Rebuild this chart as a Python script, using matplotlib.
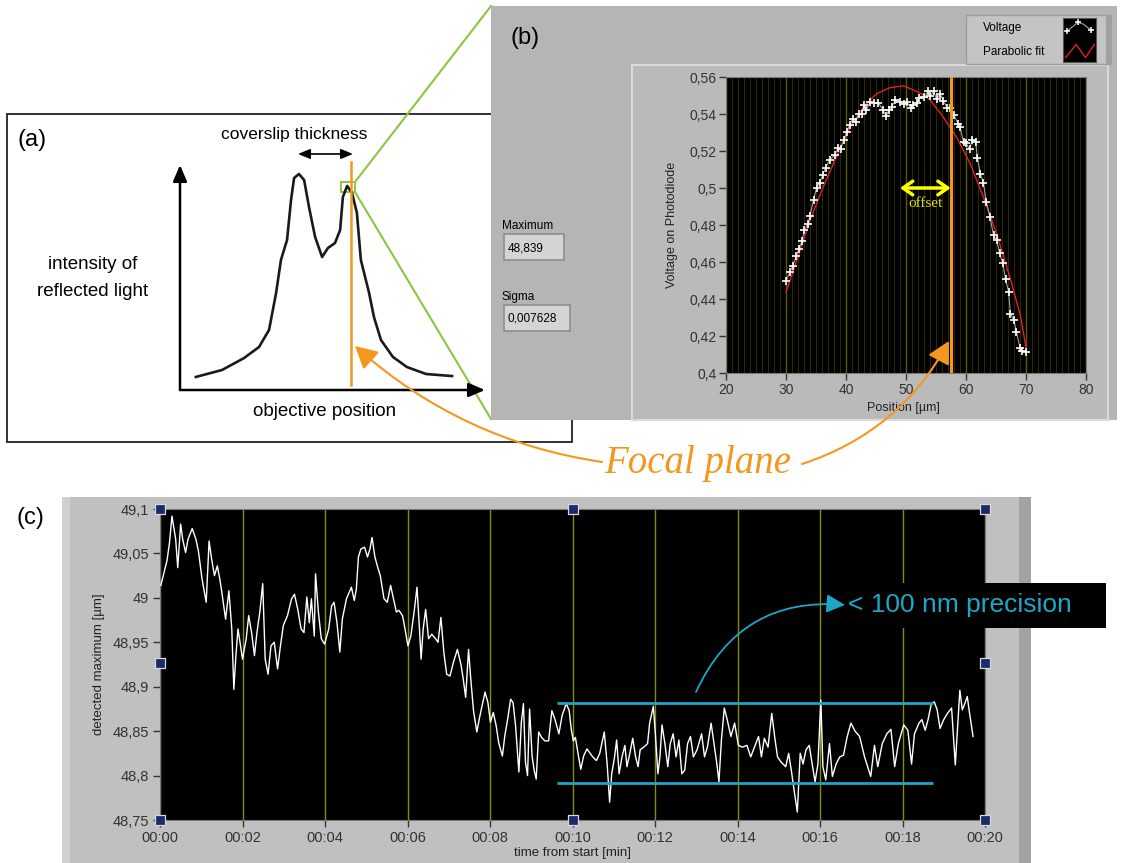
import numpy as np
import matplotlib
matplotlib.use("Agg")
import matplotlib.pyplot as plt
from matplotlib.patches import Rectangle, FancyArrowPatch
from matplotlib.ticker import MultipleLocator, FuncFormatter

plt.rcParams['font.family'] = ['Liberation Sans', 'DejaVu Sans']

# ---------------- data ----------------
# (a) schematic reflection profile (arbitrary units)
schem_pos = [5.2, 13.8, 21.0, 25.9, 29.2, 31.5, 33.1, 35.1, 36.4, 37.4, 39.0, 40.7,
             42.3, 44.3, 46.6, 48.5, 50.8, 52.5, 53.4, 54.8, 56.4, 58.0, 59.3, 62.0,
             63.6, 65.9, 69.8, 74.4, 80.7, 89.2]
schem_int = [5.8, 8.9, 14.2, 19.1, 26.7, 43.1, 57.8, 66.7, 84.4, 94.2, 96.0, 93.3,
             81.3, 68.0, 59.1, 63.1, 65.3, 71.1, 85.8, 90.7, 87.6, 78.7, 57.8, 43.1,
             32.4, 22.2, 14.7, 10.2, 7.1, 6.2]
schem_focal = 56.1
schem_cover = (38.7, 56.7)

# (b) voltage on photodiode vs position
voltage_pos = [30.0, 30.67, 31.1, 31.7, 32.1, 32.7, 33.0, 33.7, 34.0, 34.6, 35.1, 35.6,
               36.1, 36.6, 37.3, 38.1, 38.7, 39.1, 39.6, 40.1, 40.6, 41.1, 41.6, 42.1,
               42.6, 43.0, 43.4, 44.0, 44.6, 45.4, 46.2, 46.7, 47.1, 47.6, 48.2, 49.0,
               49.7, 50.1, 50.8, 51.2, 51.8, 52.2, 53.0, 53.7, 54.0, 54.6, 55.1, 55.7,
               56.2, 56.9, 57.4, 58.0, 58.7, 59.0, 59.6, 60.0, 60.6, 61.0, 61.6, 61.9,
               62.4, 62.9, 63.4, 64.0, 64.6, 65.1, 65.6, 66.1, 66.6, 67.1, 67.4, 68.0,
               68.4, 69.0, 69.4, 70.0]
voltage_val = [0.4497, 0.4546, 0.458, 0.463, 0.4668, 0.4712, 0.4771, 0.4807, 0.485,
               0.4937, 0.5002, 0.5027, 0.5068, 0.511, 0.5153, 0.5177, 0.5218, 0.5213,
               0.5258, 0.5303, 0.5339, 0.5375, 0.5357, 0.5398, 0.5402, 0.5447, 0.542,
               0.5465, 0.546, 0.546, 0.542, 0.5387, 0.5423, 0.5438, 0.5474, 0.5467,
               0.5452, 0.5465, 0.5434, 0.5447, 0.546, 0.5487, 0.5492, 0.5523, 0.5495,
               0.5523, 0.5479, 0.551, 0.547, 0.5434, 0.5434, 0.5393, 0.5348, 0.533,
               0.5247, 0.5243, 0.5209, 0.5258, 0.5249, 0.5164, 0.5077, 0.5027, 0.4924,
               0.4843, 0.4744, 0.4717, 0.4649, 0.4595, 0.4508, 0.4438, 0.4321, 0.4285,
               0.4222, 0.4137, 0.4119, 0.4114]
fit_pos = [30.0, 31.8, 34.0, 36.2, 38.4, 40.7, 42.9, 45.1, 47.3, 49.5, 50.1, 52.3, 54.0,
           56.2, 58.4, 60.7, 62.9, 65.1, 67.3, 69.0, 70.0]
fit_val = [0.4438, 0.4609, 0.4825, 0.5005, 0.5168, 0.533, 0.5438, 0.551, 0.5542, 0.5552,
           0.5546, 0.5514, 0.5477, 0.5384, 0.5276, 0.5132, 0.4951, 0.4753, 0.4519,
           0.432, 0.414]
focal_pos_b = 57.45
offset_start = 49.0
offset_level = 0.5

# (c) detected maximum vs time
time_min = [0.02, 0.08, 0.17, 0.23, 0.29, 0.38, 0.43, 0.5, 0.55, 0.62, 0.68, 0.78, 0.87,
            0.93, 1.02, 1.12, 1.19, 1.25, 1.32, 1.39, 1.45, 1.5, 1.59, 1.67, 1.74, 1.79,
            1.84, 1.89, 1.94, 2.0, 2.09, 2.15, 2.22, 2.29, 2.35, 2.42, 2.49, 2.55, 2.62,
            2.69, 2.77, 2.85, 2.92, 2.99, 3.09, 3.19, 3.26, 3.34, 3.42, 3.49, 3.56, 3.62,
            3.67, 3.74, 3.77, 3.84, 3.91, 3.99, 4.09, 4.16, 4.22, 4.29, 4.36, 4.42, 4.52,
            4.64, 4.71, 4.76, 4.81, 4.87, 4.96, 5.03, 5.09, 5.14, 5.21, 5.28, 5.34, 5.43,
            5.51, 5.59, 5.66, 5.73, 5.79, 5.88, 5.94, 6.01, 6.08, 6.16, 6.23, 6.29, 6.33,
            6.38, 6.44, 6.51, 6.59, 6.68, 6.74, 6.81, 6.88, 6.95, 7.03, 7.11, 7.21, 7.3,
            7.35, 7.41, 7.48, 7.53, 7.6, 7.68, 7.75, 7.81, 7.88, 7.95, 8.01, 8.08, 8.15,
            8.21, 8.3, 8.36, 8.43, 8.5, 8.56, 8.62, 8.7, 8.76, 8.81, 8.86, 8.91, 8.96,
            9.02, 9.07, 9.12, 9.18, 9.25, 9.33, 9.42, 9.5, 9.57, 9.67, 9.75, 9.85, 9.92,
            9.97, 10.02, 10.07, 10.13, 10.2, 10.27, 10.35, 10.49, 10.58, 10.66, 10.77,
            10.84, 10.9, 10.95, 11.02, 11.07, 11.13, 11.2, 11.27, 11.32, 11.39, 11.46,
            11.53, 11.59, 11.64, 11.73, 11.82, 11.87, 11.96, 12.01, 12.07, 12.12, 12.17,
            12.24, 12.31, 12.37, 12.44, 12.51, 12.58, 12.65, 12.72, 12.79, 12.86, 12.93,
            13.02, 13.13, 13.2, 13.27, 13.36, 13.43, 13.5, 13.55, 13.61, 13.68, 13.75,
            13.84, 13.93, 14.02, 14.12, 14.23, 14.32, 14.41, 14.51, 14.58, 14.65, 14.74,
            14.83, 14.9, 14.97, 15.06, 15.17, 15.24, 15.31, 15.38, 15.45, 15.52, 15.59,
            15.66, 15.74, 15.81, 15.88, 15.95, 16.02, 16.07, 16.14, 16.23, 16.3, 16.39,
            16.48, 16.57, 16.66, 16.75, 16.85, 16.96, 17.08, 17.23, 17.32, 17.4, 17.51,
            17.62, 17.72, 17.81, 17.9, 18.03, 18.13, 18.22, 18.29, 18.4, 18.47, 18.55,
            18.62, 18.7, 18.77, 18.84, 18.91, 19.0, 19.09, 19.19, 19.28, 19.39, 19.45,
            19.51, 19.57, 19.62, 19.71]
detected_max = [49.014, 49.025, 49.042, 49.062, 49.092, 49.066, 49.034, 49.083, 49.066,
                49.051, 49.066, 49.078, 49.066, 49.053, 49.021, 48.995, 49.064, 49.044,
                49.025, 49.036, 49.021, 49.006, 48.976, 49.008, 48.965, 48.897, 48.935,
                48.965, 48.95, 48.931, 48.954, 48.98, 48.961, 48.935, 48.961, 48.984,
                49.016, 48.931, 48.914, 48.946, 48.95, 48.92, 48.946, 48.969, 48.98,
                48.999, 49.004, 48.987, 48.965, 48.961, 49.001, 48.972, 48.999, 48.957,
                49.027, 48.984, 48.954, 48.948, 48.965, 48.991, 48.995, 48.972, 48.939,
                48.976, 48.999, 49.012, 48.997, 49.01, 49.046, 49.055, 49.057, 49.046,
                49.055, 49.068, 49.046, 49.034, 49.025, 48.999, 48.995, 49.014, 48.999,
                48.984, 48.986, 48.98, 48.965, 48.946, 48.957, 48.984, 49.012, 48.965,
                48.931, 48.965, 48.987, 48.954, 48.959, 48.954, 48.95, 48.978, 48.939,
                48.914, 48.912, 48.927, 48.942, 48.924, 48.909, 48.888, 48.942, 48.911,
                48.873, 48.849, 48.866, 48.879, 48.894, 48.882, 48.86, 48.871, 48.856,
                48.837, 48.822, 48.845, 48.864, 48.886, 48.882, 48.856, 48.804, 48.86,
                48.881, 48.815, 48.8, 48.875, 48.822, 48.806, 48.796, 48.849, 48.843,
                48.839, 48.839, 48.873, 48.864, 48.847, 48.868, 48.881, 48.873, 48.852,
                48.839, 48.843, 48.826, 48.807, 48.822, 48.83, 48.821, 48.817, 48.825,
                48.849, 48.813, 48.77, 48.802, 48.821, 48.84, 48.802, 48.821, 48.834,
                48.81, 48.825, 48.842, 48.821, 48.81, 48.829, 48.832, 48.836, 48.859,
                48.878, 48.846, 48.802, 48.821, 48.857, 48.836, 48.81, 48.836, 48.847,
                48.821, 48.84, 48.802, 48.806, 48.836, 48.844, 48.821, 48.829, 48.847,
                48.821, 48.832, 48.859, 48.836, 48.813, 48.793, 48.84, 48.876, 48.863,
                48.844, 48.859, 48.834, 48.832, 48.834, 48.821, 48.832, 48.844, 48.821,
                48.842, 48.832, 48.87, 48.844, 48.821, 48.815, 48.81, 48.825, 48.804,
                48.781, 48.759, 48.825, 48.813, 48.829, 48.834, 48.813, 48.793, 48.813,
                48.885, 48.81, 48.795, 48.836, 48.799, 48.813, 48.821, 48.823, 48.844,
                48.859, 48.85, 48.844, 48.821, 48.799, 48.834, 48.81, 48.836, 48.847,
                48.852, 48.81, 48.836, 48.857, 48.851, 48.813, 48.847, 48.859, 48.863,
                48.851, 48.863, 48.881, 48.883, 48.874, 48.853, 48.863, 48.87, 48.876,
                48.812, 48.896, 48.874, 48.881, 48.889, 48.872, 48.844]
precision_upper = 48.882
precision_lower = 48.792
precision_span = (9.62, 18.74)

# ---------------- figure ----------------
W, H = 1131, 863
fig = plt.figure(figsize=(W / 100, H / 100), dpi=100)
fig.patch.set_facecolor('white')


def rect(x0, y0, x1, y1):
    return [x0 / W, 1 - y1 / H, (x1 - x0) / W, (y1 - y0) / H]


ORANGE = '#f5961e'
GREEN = '#8cc63f'
CYAN = '#1ea6c8'
LVGRAY = '#b5b5b5'

# background layer in pixel coordinates
bg = fig.add_axes([0, 0, 1, 1])
bg.set_xlim(0, W)
bg.set_ylim(H, 0)
bg.axis('off')
bg.set_zorder(0)

# panel (a) frame
bg.add_patch(Rectangle((7, 114), 565, 328, fc='white', ec='#222222', lw=1.3, zorder=1))
bg.text(32, 140, '(a)', fontsize=17, ha='center', va='center')
bg.text(294, 135, 'coverslip thickness', fontsize=12.5, ha='center', va='center')
bg.text(93, 264, 'intensity of', fontsize=13.5, ha='center', va='center')
bg.text(93, 291, 'reflected light', fontsize=13.5, ha='center', va='center')
bg.text(325, 411, 'objective position', fontsize=13.5, ha='center', va='center')

# zoom lines
bg.plot([355, 491], [182, 6], color=GREEN, lw=1.5, zorder=2)
bg.plot([355, 491], [192, 419], color=GREEN, lw=1.5, zorder=2)

# panel (b) background
bg.add_patch(Rectangle((491, 6), 626, 414, fc=LVGRAY, ec='none', zorder=3))
bg.add_patch(Rectangle((632, 65), 476, 355, fc='#bababa', ec='#dadada', lw=1.5, zorder=3))
bg.add_patch(Rectangle((966, 15), 144, 49, fc='#c4c4c4', ec='#9c9c9c', lw=1, zorder=3))
bg.add_patch(Rectangle((1106, 15), 6, 49, fc='#a0a0a0', ec='none', zorder=3))
bg.text(525, 38, '(b)', fontsize=17, ha='center', va='center', zorder=4)
bg.text(983, 28, 'Voltage', fontsize=8.5, ha='left', va='center', zorder=4)
bg.text(983, 52, 'Parabolic fit', fontsize=8.5, ha='left', va='center', zorder=4)

bg.text(502, 226, 'Maximum', fontsize=8.5, ha='left', va='center', zorder=4)
bg.add_patch(Rectangle((504, 234), 60, 26, fc='#d4d4d4', ec='#8e8e8e', lw=1.2, zorder=4))
bg.text(508, 248, '48,839', fontsize=8.5, ha='left', va='center', zorder=5)
bg.text(502, 297, 'Sigma', fontsize=8.5, ha='left', va='center', zorder=4)
bg.add_patch(Rectangle((504, 305), 66, 26, fc='#d4d4d4', ec='#8e8e8e', lw=1.2, zorder=4))
bg.text(507, 318, '0,007628', fontsize=8.5, ha='left', va='center', zorder=5)

# panel (c) frame
bg.add_patch(Rectangle((62, 497), 969, 370, fc='#c0c0c0', ec='none', zorder=1))
bg.add_patch(Rectangle((62, 497), 8, 370, fc='#d0d0d0', ec='none', zorder=1))
bg.add_patch(Rectangle((1019, 497), 12, 370, fc='#a2a2a2', ec='none', zorder=1))
bg.text(30, 518, '(c)', fontsize=17, ha='center', va='center')

# ---------------- panel (a) schematic ----------------
axa = fig.add_axes(rect(180, 165, 485, 390))
axa.set_zorder(1)
axa.patch.set_alpha(0)
axa.set_xlim(0, 100)
axa.set_ylim(0, 100)
axa.axis('off')
arrow_kw = dict(arrowstyle='-|>,head_length=0.7,head_width=0.3', color='black', lw=1.8,
                mutation_scale=14, shrinkA=0, shrinkB=0)
axa.annotate('', xy=(0, 1), xytext=(0, 0), xycoords='axes fraction', arrowprops=arrow_kw,
             annotation_clip=False)
axa.annotate('', xy=(1, 0), xytext=(0, 0), xycoords='axes fraction', arrowprops=arrow_kw,
             annotation_clip=False)
axa.plot(schem_pos, schem_int, color='#1a1a1a', lw=1.9, solid_joinstyle='round')
axa.plot([schem_focal, schem_focal], [2.2, 101.3], color=ORANGE, lw=1.8, clip_on=False)
axa.annotate('', xy=(schem_cover[0], 104.9), xytext=(schem_cover[1], 104.9),
             arrowprops=dict(arrowstyle='<|-|>,head_length=0.6,head_width=0.25', color='black',
                             lw=1.2, mutation_scale=12, shrinkA=0, shrinkB=0),
             annotation_clip=False)
axa.add_patch(Rectangle((52.8, 88.0), 4.6, 4.4, fc='none', ec=GREEN, lw=1.4, clip_on=False))

# ---------------- panel (b) plot ----------------
axb = fig.add_axes(rect(726, 77, 1086, 373))
axb.set_zorder(5)
axb.set_facecolor('black')
axb.set_xlim(20, 80)
axb.set_ylim(0.4, 0.56)
axb.xaxis.set_major_locator(MultipleLocator(10))
axb.xaxis.set_minor_locator(MultipleLocator(1))
axb.yaxis.set_major_locator(MultipleLocator(0.02))
axb.yaxis.set_major_formatter(FuncFormatter(lambda v, p: f"{v:.2f}".rstrip('0').replace('.', ',')))
axb.set_axisbelow(True)
axb.grid(which='minor', axis='x', color='#2c2c00', lw=0.7)
axb.grid(which='major', axis='x', color='#5c5c08', lw=1.0)
axb.tick_params(which='minor', length=0)
axb.tick_params(which='major', direction='out', length=5, width=1, colors='#333333',
                labelsize=10, pad=2)
for s in axb.spines.values():
    s.set_color('#7a7a7a')
axb.plot(fit_pos, fit_val, color='#e0221c', lw=1.0, zorder=3)
axb.plot(voltage_pos, voltage_val, color='#a0a0a0', lw=0.8, marker='+', ms=6,
         mec='white', mew=1.2, zorder=4)
axb.axvline(focal_pos_b, color=ORANGE, lw=2.2, zorder=5)
axb.annotate('', xy=(offset_start, offset_level), xytext=(focal_pos_b, offset_level),
             arrowprops=dict(arrowstyle='<->,head_length=0.5,head_width=0.35', color='#ffff00',
                             lw=2.5, mutation_scale=14, shrinkA=0, shrinkB=0), zorder=6)
axb.text((offset_start + focal_pos_b) / 2, 0.4915, 'offset', color='#e2e200',
         fontfamily='Liberation Serif', fontsize=11, ha='center', va='center', zorder=6)
axb.set_xlabel('Position [µm]', fontsize=9, color='#222222')
axb.xaxis.set_label_coords(0.494, -0.098)
axb.set_ylabel('Voltage on Photodiode', fontsize=9, color='#222222')
axb.yaxis.set_label_coords(-0.133, 0.5)

# legend swatches for (b)
sw = fig.add_axes(rect(1063, 18, 1096, 62))
sw.set_zorder(5)
sw.set_facecolor('black')
sw.set_xlim(0, 1)
sw.set_ylim(0, 1)
sw.set_xticks([])
sw.set_yticks([])
for s in sw.spines.values():
    s.set_color('#555555')
sw.plot([0.12, 0.45, 0.62, 0.85], [0.7, 0.9, 0.86, 0.72], color='#a0a0a0', lw=0.8,
        marker='+', ms=5, mec='white', mew=1.1, markevery=[0, 1, 3])
sw.plot([0.08, 0.4, 0.68, 0.95], [0.1, 0.4, 0.1, 0.4], color='#e0221c', lw=1.0)

# ---------------- panel (c) plot ----------------
axc = fig.add_axes(rect(160, 509, 985, 820))
axc.set_zorder(5)
axc.set_facecolor('black')
axc.set_xlim(0, 20)
axc.set_ylim(48.75, 49.1)
axc.xaxis.set_major_locator(MultipleLocator(2))
axc.yaxis.set_major_locator(MultipleLocator(0.05))
axc.xaxis.set_major_formatter(FuncFormatter(lambda v, p: f"00:{int(round(v)):02d}"))
axc.yaxis.set_major_formatter(FuncFormatter(lambda v, p: f"{v:.2f}".rstrip('0').rstrip('.').replace('.', ',')))
axc.set_axisbelow(True)
axc.grid(axis='x', color='#8c8c00', lw=1.0)
axc.tick_params(direction='out', length=5, width=1, colors='#333333', labelsize=10.5, pad=3)
for s in axc.spines.values():
    s.set_color('#7a7a7a')
axc.plot(time_min, detected_max, color='white', lw=1.0, zorder=3)
axc.hlines([precision_upper, precision_lower], precision_span[0], precision_span[1],
           color=CYAN, lw=2, zorder=4)
axc.set_xlabel('time from start [min]', fontsize=9.5, color='#222222')
axc.xaxis.set_label_coords(0.5, -0.088)
axc.set_ylabel('detected maximum [µm]', fontsize=9.5, color='#222222')
axc.yaxis.set_label_coords(-0.067, 0.5)
hx = [0, 0.5, 1, 0, 1, 0, 0.5, 1]
hy = [1, 1, 1, 0.505, 0.505, 0, 0, 0]
axc.scatter(hx, hy, transform=axc.transAxes, marker='s', s=45, c='#1b2a6b',
            edgecolors='#d8d8d8', linewidths=0.9, clip_on=False, zorder=6)

# ---------------- overlay annotations ----------------
ov = fig.add_axes([0, 0, 1, 1])
ov.set_xlim(0, W)
ov.set_ylim(H, 0)
ov.axis('off')
ov.set_zorder(10)
ov.patch.set_alpha(0)

ov.add_patch(Rectangle((828, 583), 278, 45, fc='black', ec='none'))
ov.text(848, 605, '< 100 nm precision', color=CYAN, fontsize=19, ha='left', va='center')
ov.add_patch(FancyArrowPatch((696, 692), (845, 605), connectionstyle='arc3,rad=-0.35',
                             arrowstyle='-|>,head_length=0.7,head_width=0.35', mutation_scale=16,
                             color=CYAN, lw=1.3, shrinkA=0, shrinkB=0))

ov.text(698, 463, 'Focal plane', color=ORANGE, fontsize=28, fontfamily='Liberation Serif',
        style='italic', ha='center', va='center')
ov.add_patch(FancyArrowPatch((602, 462), (355, 346), connectionstyle='arc3,rad=-0.15',
                             arrowstyle='-|>,head_length=0.75,head_width=0.4', mutation_scale=18,
                             color=ORANGE, lw=1.5, shrinkA=0, shrinkB=0))
ov.add_patch(FancyArrowPatch((802, 464), (949, 341), connectionstyle='arc3,rad=0.2',
                             arrowstyle='-|>,head_length=0.75,head_width=0.4', mutation_scale=18,
                             color=ORANGE, lw=1.5, shrinkA=0, shrinkB=0))

fig.savefig('out.png', dpi=100)
